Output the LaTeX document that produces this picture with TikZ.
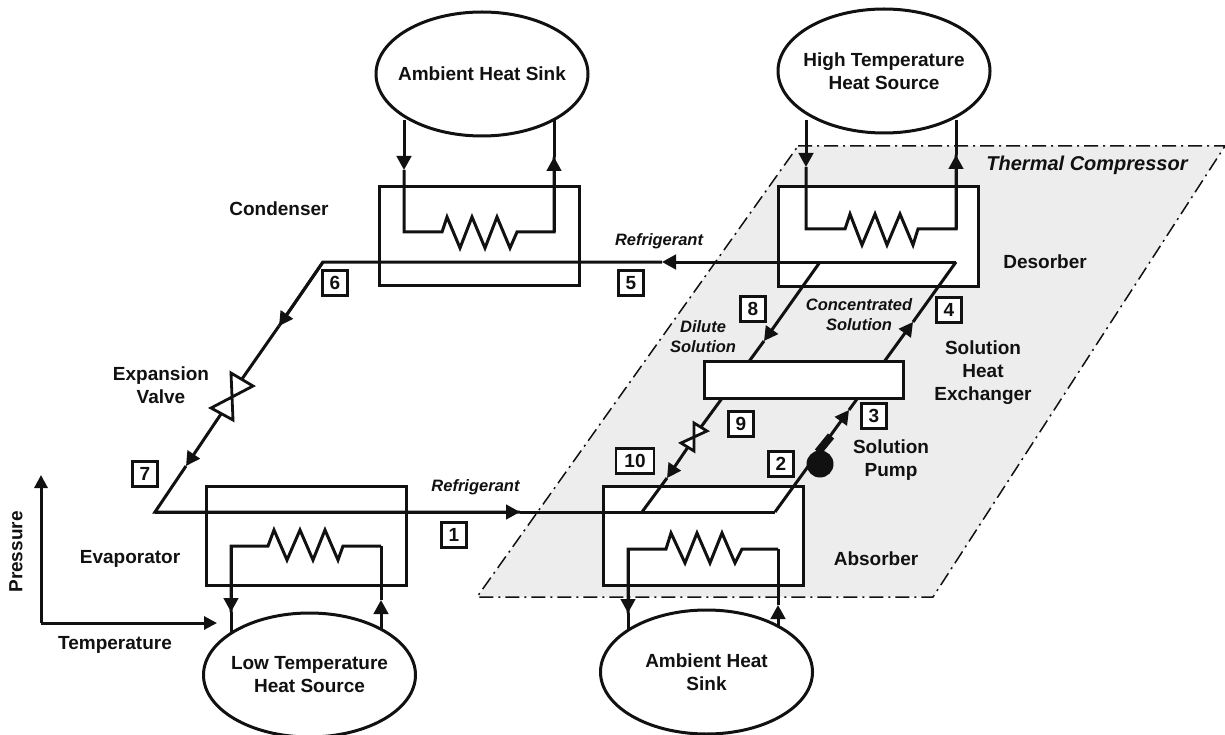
\documentclass[tikz,border=0pt]{standalone}
\usepackage{fontspec}
\setmainfont{Liberation Sans}
\usetikzlibrary{arrows.meta,shapes.geometric}
\definecolor{regiongray}{HTML}{EDEDED}
\definecolor{inkblack}{HTML}{111111}
\tikzset{
  wire/.style={line width=3pt,draw=inkblack,line join=miter,line cap=butt},
  flow/.style={wire,-{Triangle[length=14pt,width=14.5pt]}},
  thinflow/.style={wire,-{Triangle[length=13pt,width=13pt]}},
  unitbox/.style={draw=inkblack,fill=white,line width=3pt,rectangle,inner sep=0pt,outer sep=0pt,minimum width=200pt,minimum height=99pt},
  hxbox/.style={unitbox,minimum height=37pt},
  sourceoval/.style={draw=inkblack,fill=white,line width=3pt,ellipse,inner sep=0pt,outer sep=0pt,minimum width=212pt,minimum height=124pt},
  ovaltext/.style={align=center,inner sep=0pt,text=inkblack,font=\fontsize{19}{23}\selectfont\bfseries},
  tagbox/.style={draw=inkblack,fill=white,line width=2.6pt,rectangle,inner sep=0pt,minimum width=25pt,minimum height=25pt,text=inkblack,font=\fontsize{19}{23}\selectfont\bfseries},
  lab/.style={align=center,inner sep=0pt,text=inkblack,font=\fontsize{19}{23}\selectfont\bfseries},
  ilab/.style={align=center,inner sep=0pt,text=inkblack,font=\fontsize{16.5}{20}\selectfont\bfseries\itshape},
  region/.style={fill=regiongray,draw=inkblack,line width=1.5pt,dash pattern=on 14pt off 5pt on 2pt off 5pt},
  valve/.style={wire,line width=2.8pt,fill=white,line join=miter}
}
\begin{document}
\begin{tikzpicture}[x=1pt,y=-1pt]
\useasboundingbox (0,0) rectangle (1225,735);
\fill[white] (0,0) rectangle (1225,735);
% region
\path[region] (798,146) -- (1225,146) -- (933,597) -- (477,597) -- cycle;
% boxes
\node[unitbox] (cond) at (479,236) {};
\node[unitbox] (des) at (878,236.5) {};
\node[unitbox] (evap) at (306,536) {};
\node[unitbox] (abs) at (703,535.5) {};
% junction coordinates
\coordinate (c6) at (323,262);
\coordinate (c7) at (155,512);
\coordinate (dR) at (956,262);
\coordinate (dD) at (820,262);
\coordinate (aD) at (642,512);
\coordinate (aR) at (775,512);
\coordinate (t5) at (662,262);
\coordinate (t6) at (279,326);
\coordinate (t7) at (186,466);
\coordinate (t1) at (520,512);
\coordinate (t8) at (764,341);
\coordinate (t10) at (667,478);
\coordinate (t3) at (849,410);
\coordinate (t4) at (913,322);
\coordinate (vA) at (242,379);
\coordinate (vB) at (221,414);
\coordinate (wA) at (701,427);
\coordinate (wB) at (688,447);
% refrigerant loop
\draw[flow] (dR) -- (t5);
\draw[wire] (t5) -- (c6) -- (t6);
\draw[wire] (t6) -- (vA);
\draw[flow] (c6) -- (t6);
\draw[flow] (vB) -- (t7);
\draw[wire] (t7) -- (c7) -- (t1);
\draw[flow] (c7) -- (t1);
\draw[wire] (t1) -- (aR);
% solution lines
\draw[flow] (dD) -- (t8);
\draw[wire] (t8) -- (wA);
\draw[flow] (wB) -- (t10);
\draw[wire] (t10) -- (aD);
\draw[flow] (aR) -- (t3);
\draw[flow] (t3) -- (t4);
\draw[wire] (t4) -- (dR);
% valves
\draw[valve] (231,373) -- (253,386) -- (211,408) -- (233,420) -- cycle;
\draw[valve] (694,423) -- (707,431) -- (681,443) -- (694,451) -- cycle;
% pump
\node[circle,fill=inkblack,inner sep=0pt,minimum size=27pt] (pump) at (820,464) {};
\coordinate (pS) at (818,452);
\coordinate (pT) at (831,436);
\draw[line width=8pt,draw=inkblack] (pS) -- (pT);
% heat exchanger
\node[hxbox,minimum width=199pt] (hx) at (803.5,379.5) {};
% condenser coil
\coordinate (o1l) at (404,120);
\coordinate (o1r) at (554,120);
\draw[flow] (o1l) -- (404,170);
\draw[wire] (404,170) -- (404,232) -- (442,232) -- (447,217) -- (460,248) -- (472,217) -- (485,248) -- (497,217) -- (510,248) -- (517,232) -- (554,232) -- (554,157);
\draw[flow] (554,232) -- (554,157);
\draw[wire] (554,157) -- (o1r);
% desorber coil
\coordinate (o2l) at (806,120);
\coordinate (o2r) at (956,120);
\draw[flow] (o2l) -- (806,167);
\draw[wire] (806,167) -- (806,229) -- (845,229) -- (850,214) -- (862,245) -- (875,214) -- (887,245) -- (900,214) -- (913,245) -- (918,229) -- (956,229) -- (956,155);
\draw[flow] (956,229) -- (956,155);
\draw[wire] (956,155) -- (o2r);
% evaporator coil
\coordinate (o3l) at (231,640);
\coordinate (o3r) at (381,640);
\draw[wire] (381,546) -- (343,546) -- (338,560) -- (325,530) -- (313,560) -- (300,530) -- (287,560) -- (274,530) -- (268,546) -- (231,546) -- (231,612);
\draw[flow] (231,546) -- (231,612);
\draw[wire] (231,612) -- (o3l);
\draw[flow] (o3r) -- (381,600);
\draw[wire] (381,600) -- (381,546);
% absorber coil
\coordinate (o4l) at (628,640);
\coordinate (o4r) at (778,640);
\draw[wire] (778,549) -- (742,549) -- (735,563) -- (722,533) -- (710,563) -- (697,533) -- (685,563) -- (671,533) -- (666,549) -- (628,549) -- (628,613);
\draw[flow] (628,549) -- (628,613);
\draw[wire] (628,613) -- (o4l);
\draw[flow] (o4r) -- (778,605);
\draw[wire] (778,605) -- (778,549);
% ovals
\node[sourceoval,label={[ovaltext]center:Ambient Heat Sink}] (sinkT) at (482,74) {};
\node[sourceoval,label={[ovaltext]center:High Temperature\\Heat Source}] (hot) at (884,71) {};
\node[sourceoval,label={[ovaltext]center:Low Temperature\\Heat Source}] (cold) at (309.5,675) {};
\node[sourceoval,label={[ovaltext]center:Ambient Heat\\Sink}] (sinkB) at (706.5,672) {};
% axes
\coordinate (ax0) at (41,623);
\coordinate (axP) at (41,475);
\coordinate (axT) at (217,623);
\draw[thinflow] (ax0) -- (axP);
\draw[thinflow] (ax0) -- (axT);
\node[lab,rotate=90] (lp) at (16,552) {Pressure};
\node[lab] (lt) at (115,645) {Temperature};
% state tags
\node[tagbox] (s1) at (454,535) {1};
\node[tagbox] (s2) at (781,464) {2};
\node[tagbox] (s3) at (874,416) {3};
\node[tagbox] (s4) at (949,310) {4};
\node[tagbox] (s5) at (631,283) {5};
\node[tagbox] (s6) at (335,283) {6};
\node[tagbox] (s7) at (145,474) {7};
\node[tagbox] (s8) at (753,309) {8};
\node[tagbox] (s9) at (741,424) {9};
\node[tagbox,minimum width=38pt] (s10) at (635,461) {10};
% labels
\node[lab] (lcond) at (279,209) {Condenser};
\node[lab] (ldes) at (1045,262) {Desorber};
\node[lab] (lhx) at (983,373) {Solution\\Heat\\Exchanger};
\node[lab] (lpump) at (891,460) {Solution\\Pump};
\node[lab] (labs) at (876,559) {Absorber};
\node[lab] (lexp) at (161,385) {Expansion\\Valve};
\node[lab] (levap) at (130,559) {Evaporator};
\node[ilab] (lr5) at (659,241) {Refrigerant};
\node[ilab] (lr1) at (475.5,487) {Refrigerant};
\node[ilab] (ldil) at (703,337) {Dilute\\Solution};
\node[ilab] (lconc) at (859,315) {Concentrated\\Solution};
\node[lab,font=\fontsize{20}{24}\selectfont\bfseries\itshape] (ltc) at (1087,165) {Thermal Compressor};
\end{tikzpicture}
\end{document}
